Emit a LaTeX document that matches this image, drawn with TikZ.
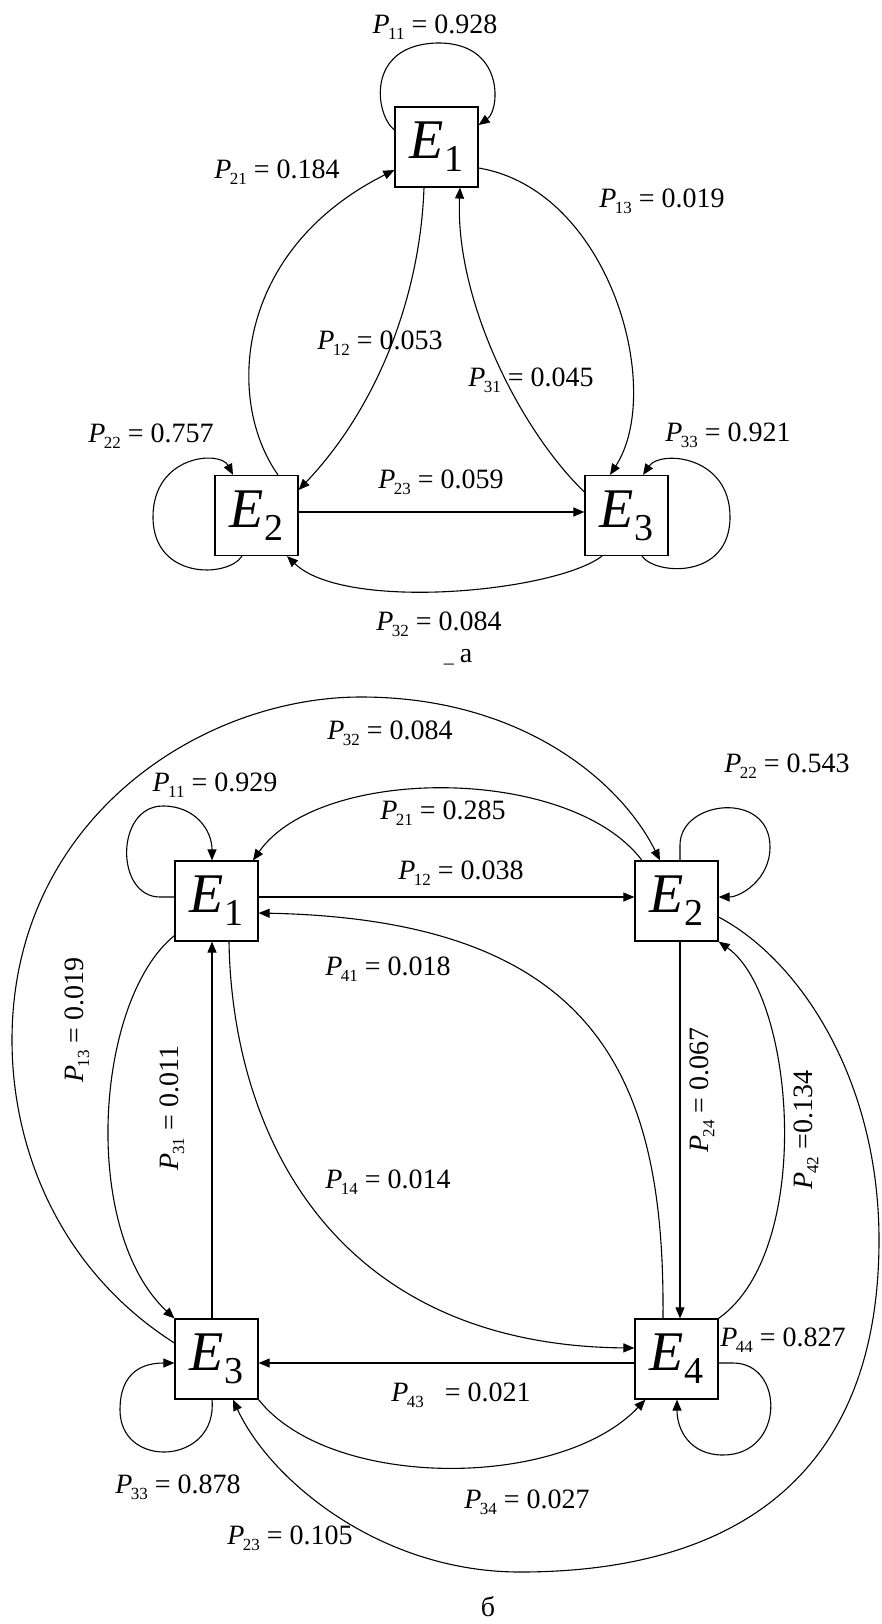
\documentclass[tikz,border=0pt]{standalone}
\usepackage{fontspec}
\setmainfont{Liberation Serif}
\usetikzlibrary{arrows.meta}
\newcommand\EE[1]{{\fontsize{56}{56}\selectfont\textit{E}\raisebox{-13pt}{\fontsize{38}{38}\selectfont #1}}}
\newcommand\pp[2]{\textit{P}\kern-1.5pt\raisebox{-6pt}{\fontsize{17}{17}\selectfont #1}\ =\ #2}
\begin{document}
\begin{tikzpicture}[x=1pt,y=1pt,
  box/.style={draw,line width=1.2pt,minimum width=83pt,minimum height=80pt,inner sep=0pt},
  lbl/.style={font=\fontsize{28}{30}\selectfont,inner sep=0pt},
  edge/.style={line width=1.1pt,-{Triangle[length=11pt,width=9pt]}}]
\fill[white] (0,0) rectangle (881,-1624);
\useasboundingbox (0,0) rectangle (881,-1624);
% ---------- part a ----------
\node[box] (A1) at (436.5,-147) {\EE{1}};
\node[box] (A2) at (256.5,-515.5) {\EE{2}};
\node[box] (A3) at (626.5,-515.5) {\EE{3}};
\draw[edge] ([yshift=17pt]A1.west) .. controls (375,-115) and (365,-45) .. (437,-43) .. controls (505,-42) and (500,-110) .. ([yshift=22pt]A1.east);
\draw[edge] ([xshift=21.5pt]A2.north) .. controls (225,-400) and (235,-250) .. ([yshift=-23pt]A1.west);
\draw[edge] ([xshift=-12.5pt]A1.south) .. controls (420,-300) and (375,-410) .. ([yshift=25.5pt]A2.east);
\draw[edge] ([yshift=23.5pt]A3.west) .. controls (520,-430) and (455,-300) .. ([xshift=23.5pt]A1.south);
\draw[edge] ([yshift=-21pt]A1.east) .. controls (610,-190) and (665,-390) .. ([xshift=-16.5pt]A3.north);
\draw[edge] ([xshift=15.5pt]A3.south) .. controls (655,-575) and (730,-580) .. (730,-517) .. controls (730,-455) and (660,-450) .. ([xshift=16.5pt]A3.north);
\draw[edge] ([xshift=-14.5pt]A2.south) .. controls (228,-578) and (153,-580) .. (153,-517) .. controls (153,-455) and (220,-450) .. ([xshift=-23.5pt]A2.north);
\draw[edge] ([yshift=3.5pt]A2.east) -- ([yshift=3.5pt]A3.west);
\draw[edge] ([xshift=-24.5pt]A3.south) .. controls (555,-592) and (345,-612) .. ([xshift=30.5pt]A2.south);
\node[lbl] (la11) at (435,-27) {\pp{11}{0.928}};
\node[lbl] (la21) at (277,-172) {\pp{21}{0.184}};
\node[lbl] (la13) at (662,-201) {\pp{13}{0.019}};
\node[lbl] (la12) at (380,-343) {\pp{12}{0.053}};
\node[lbl] (la31) at (531,-380) {\pp{31}{0.045}};
\node[lbl] (la22) at (151,-436) {\pp{22}{0.757}};
\node[lbl] (la33) at (728,-435) {\pp{33}{0.921}};
\node[lbl] (la23) at (441,-482) {\pp{23}{0.059}};
\node[lbl] (la32) at (439,-624) {\pp{32}{0.084}};
\node[lbl] (capa) at (458,-657) {{\fontsize{20}{20}\selectfont\_}\hspace{6pt}a};
% ---------- part b ----------
\node[box] (B1) at (216.5,-901) {\EE{1}};
\node[box] (B2) at (676.5,-901) {\EE{2}};
\node[box] (B3) at (216.5,-1359) {\EE{3}};
\node[box] (B4) at (676.5,-1359) {\EE{4}};
\draw[edge] ([yshift=4pt]B1.west) -- (160,-897) .. controls (115,-897) and (115,-806) .. (163,-806) .. controls (195,-806) and (212,-830) .. ([xshift=-4.5pt]B1.north);
\draw[edge] ([xshift=-34.5pt]B2.north) .. controls (570,-765) and (320,-765) .. ([xshift=36.5pt]B1.north);
\draw[edge] ([yshift=4pt]B1.east) -- ([yshift=4pt]B2.west);
\draw[edge] ([xshift=3.5pt]B2.north) -- (680,-845) .. controls (680,-800) and (770,-790) .. (770,-847) .. controls (770,-880) and (740,-897) .. ([yshift=4pt]B2.east);
\draw[edge] ([yshift=16pt]B3.west) .. controls (60,-1270) and (12,-1150) .. (12,-1040) .. controls (12,-820) and (200,-697) .. (361,-697) .. controls (520,-697) and (620,-780) .. ([xshift=-16.5pt]B2.north);
\draw[edge] ([yshift=6pt]B1.south west) .. controls (95,-1000) and (80,-1230) .. (B3.north west);
\draw[edge] ([xshift=-4.5pt]B3.north) -- ([xshift=-4.5pt]B1.south);
\draw[edge] ([xshift=12.5pt]B1.south) .. controls (232,-1130) and (330,-1345) .. ([yshift=11pt]B4.west);
\draw[edge] ([xshift=-13.5pt]B4.north) .. controls (665,-1080) and (600,-920) .. ([yshift=-12pt]B1.east);
\draw[edge] ([xshift=3.5pt]B2.south) -- ([xshift=3.5pt]B4.north);
\draw[edge] (B4.north east) .. controls (815,-1250) and (795,-995) .. (B2.south east);
\draw[edge] ([yshift=-16pt]B2.east) .. controls (800,-960) and (879,-1080) .. (879,-1240) .. controls (879,-1480) and (730,-1572) .. (520,-1572) .. controls (380,-1572) and (270,-1480) .. ([xshift=16.5pt]B3.south);
\draw[edge] ([xshift=-4.5pt]B3.south) .. controls (218,-1465) and (120,-1470) .. (120,-1410) .. controls (120,-1370) and (145,-1363) .. ([yshift=-4pt]B3.west);
\draw[edge] ([yshift=-4pt]B4.west) -- ([yshift=-4pt]B3.east);
\draw[edge] (B3.south east) .. controls (330,-1490) and (560,-1490) .. ([xshift=11pt]B4.south west);
\draw[edge] ([yshift=-4pt]B4.east) -- (733,-1363) .. controls (785,-1363) and (785,-1455) .. (723,-1455) .. controls (690,-1455) and (677,-1430) .. ([xshift=0.5pt]B4.south);
\node[lbl] (lb32) at (390,-733) {\pp{32}{0.084}};
\node[lbl] (lb11) at (215,-785) {\pp{11}{0.929}};
\node[lbl] (lb22) at (787,-766) {\pp{22}{0.543}};
\node[lbl] (lb21) at (443,-813) {\pp{21}{0.285}};
\node[lbl] (lb12) at (461,-873) {\pp{12}{0.038}};
\node[lbl] (lb41) at (388,-969) {\pp{41}{0.018}};
\node[lbl,rotate=90] (lb13) at (77,-1020) {\pp{13}{0.019}};
\node[lbl,rotate=90] (lb31) at (172,-1108) {\pp{31}{0.011}};
\node[lbl,rotate=90] (lb24) at (702,-1090) {\pp{24}{0.067}};
\node[lbl,rotate=90] (lb42) at (806,-1130) {\textit{P}\kern-1.5pt\raisebox{-6pt}{\fontsize{17}{17}\selectfont 42}\ =0.134};
\node[lbl] (lb14) at (388,-1182) {\pp{14}{0.014}};
\node[lbl] (lb44) at (783,-1340) {\pp{44}{0.827}};
\node[lbl] (lb43) at (461,-1395) {\textit{P}\kern-1.5pt\raisebox{-6pt}{\fontsize{17}{17}\selectfont 43}\ \ \ =\ 0.021};
\node[lbl] (lb33) at (178,-1487) {\pp{33}{0.878}};
\node[lbl] (lb34) at (527,-1502) {\pp{34}{0.027}};
\node[lbl] (lb23) at (290,-1538) {\pp{23}{0.105}};
\node[lbl] (capb) at (488,-1607) {б};
\end{tikzpicture}
\end{document}
